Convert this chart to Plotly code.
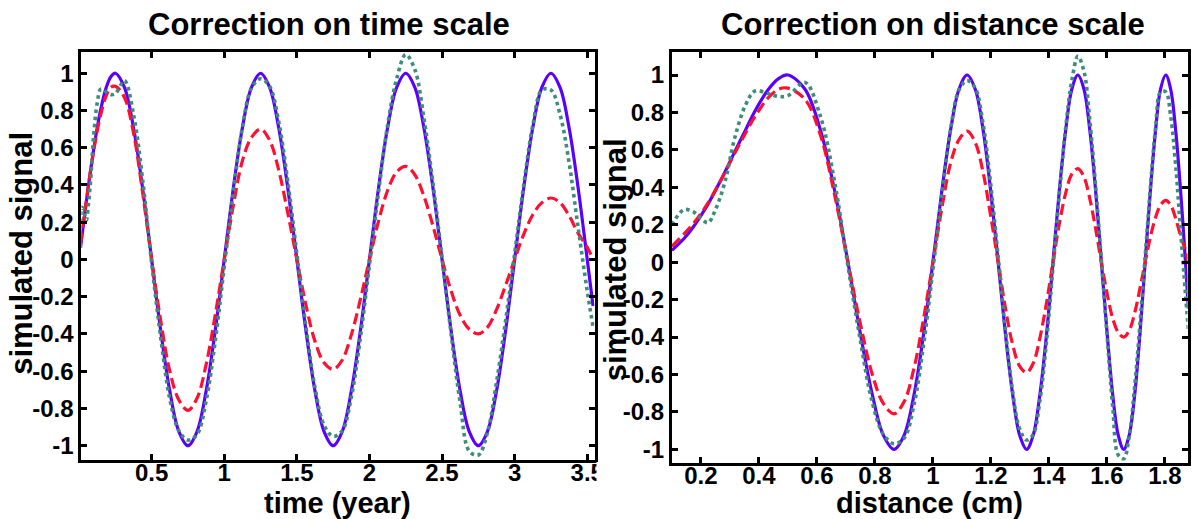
import plotly.graph_objects as go

# ---- data ----
time_year = [0.01, 0.02, 0.03, 0.04, 0.05, 0.0625, 0.08, 0.1, 0.125, 0.15, 0.1875, 0.22, 0.25,
             0.3125, 0.375, 0.4375, 0.5, 0.5625, 0.625, 0.6875, 0.75, 0.8125, 0.875, 0.9375, 1.0,
             1.0625, 1.125, 1.1875, 1.25, 1.3125, 1.375, 1.4375, 1.5, 1.5625, 1.625, 1.6875, 1.75,
             1.8125, 1.875, 1.9375, 2.0,
             2.0625, 2.125, 2.1875, 2.25, 2.3125, 2.375, 2.4375, 2.5, 2.5625, 2.625, 2.6875, 2.75,
             2.8125, 2.875, 2.9375, 3.0,
             3.0625, 3.125, 3.1875, 3.25, 3.3125, 3.375, 3.4375, 3.5, 3.54]

distance_cm = [0.100, 0.141, 0.173, 0.200, 0.224, 0.250, 0.283, 0.316, 0.354, 0.387, 0.433, 0.469, 0.500,
               0.559, 0.612, 0.661, 0.707, 0.750, 0.791, 0.829, 0.866, 0.901, 0.935, 0.968, 1.000,
               1.031, 1.061, 1.090, 1.118, 1.146, 1.173, 1.199, 1.225, 1.250, 1.275, 1.299, 1.323,
               1.346, 1.369, 1.392, 1.414,
               1.436, 1.458, 1.479, 1.500, 1.521, 1.541, 1.561, 1.581, 1.601, 1.620, 1.639, 1.658,
               1.677, 1.696, 1.714, 1.732,
               1.750, 1.768, 1.785, 1.803, 1.820, 1.837, 1.854, 1.871, 1.881]

signal_true = [0.063, 0.125, 0.187, 0.249, 0.309, 0.383, 0.482, 0.588, 0.707, 0.809, 0.924, 0.982, 1.0,
               0.924, 0.707, 0.383, 0.0, -0.383, -0.707, -0.924, -1.0, -0.924, -0.707, -0.383, 0.0,
               0.383, 0.707, 0.924, 1.0, 0.924, 0.707, 0.383, 0.0, -0.383, -0.707, -0.924, -1.0,
               -0.924, -0.707, -0.383, 0.0,
               0.383, 0.707, 0.924, 1.0, 0.924, 0.707, 0.383, 0.0, -0.383, -0.707, -0.924, -1.0,
               -0.924, -0.707, -0.383, 0.0,
               0.383, 0.707, 0.924, 1.0, 0.924, 0.707, 0.383, 0.0, -0.25]

signal_smoothed = [0.085, 0.15, 0.205, 0.26, 0.315, 0.385, 0.48, 0.58, 0.69, 0.78, 0.88, 0.925, 0.93,
                   0.87, 0.68, 0.36, 0.0, -0.33, -0.60, -0.755, -0.81, -0.745, -0.565, -0.30, 0.0,
                   0.29, 0.53, 0.655, 0.70, 0.64, 0.48, 0.25, 0.0, -0.245, -0.44, -0.555, -0.59,
                   -0.54, -0.405, -0.215, 0.0,
                   0.205, 0.37, 0.47, 0.50, 0.455, 0.34, 0.18, 0.0, -0.17, -0.30, -0.375, -0.40,
                   -0.365, -0.27, -0.14, 0.0,
                   0.135, 0.24, 0.305, 0.33, 0.305, 0.235, 0.14, 0.065, 0.0]

signal_corrected = [0.20, 0.28, 0.27, 0.235, 0.21, 0.28, 0.43, 0.66, 0.84, 0.915, 0.90, 0.885, 0.89,
                    0.96, 0.78, 0.43, -0.02, -0.42, -0.75, -0.92, -0.97, -0.94, -0.76, -0.44, -0.04,
                    0.36, 0.71, 0.92, 0.97, 0.93, 0.74, 0.42, 0.03, -0.36, -0.69, -0.89, -0.95,
                    -0.92, -0.74, -0.42, -0.03,
                    0.36, 0.72, 0.97, 1.10, 1.02, 0.76, 0.41, 0.01, -0.40, -0.77, -1.03, -1.05,
                    -0.93, -0.66, -0.33, 0.03,
                    0.40, 0.72, 0.91, 0.91, 0.78, 0.52, 0.17, -0.17, -0.36]

time_ticks = [0.5, 1, 1.5, 2, 2.5, 3, 3.5]
time_tick_text = ["0.5", "1", "1.5", "2", "2.5", "3", "3.5"]
dist_ticks = [0.2, 0.4, 0.6, 0.8, 1.0, 1.2, 1.4, 1.6, 1.8]
dist_tick_text = ["0.2", "0.4", "0.6", "0.8", "1", "1.2", "1.4", "1.6", "1.8"]
y_ticks = [-1, -0.8, -0.6, -0.4, -0.2, 0, 0.2, 0.4, 0.6, 0.8, 1]
y_tick_text = ["-1", "-0.8", "-0.6", "-0.4", "-0.2", "0", "0.2", "0.4", "0.6", "0.8", "1"]

titles = ["Correction on time scale", "Correction on distance scale"]
x_titles = ["time (year)", "distance (cm)"]
y_title = "simulated signal"

# ---- styling ----
W, H = 1198, 519
BLUE = "#5a00ff"
RED = "#ff1030"
GREEN = "#3d8c7c"
FONT = "Liberation Sans"


def px_x(p):
    return p / W


def px_y(p):
    return 1 - p / H


fig = go.Figure()

for xs, xa, ya in [(time_year, "x", "y"), (distance_cm, "x2", "y2")]:
    fig.add_trace(go.Scatter(x=xs, y=signal_true, xaxis=xa, yaxis=ya, mode="lines",
                             line=dict(color=BLUE, width=3.2, shape="spline"), showlegend=False))
    fig.add_trace(go.Scatter(x=xs, y=signal_smoothed, xaxis=xa, yaxis=ya, mode="lines",
                             line=dict(color=RED, width=3.2, dash="11px,5px", shape="spline"),
                             showlegend=False))
    fig.add_trace(go.Scatter(x=xs, y=signal_corrected, xaxis=xa, yaxis=ya, mode="lines",
                             line=dict(color=GREEN, width=3.6, dash="dot", shape="spline"),
                             showlegend=False))

tickfont = dict(family=FONT, size=24, color="black", weight="bold")
axis_common = dict(showline=True, linewidth=3, linecolor="black", mirror="ticks",
                   ticks="inside", ticklen=6, tickwidth=2.5, tickcolor="black",
                   showgrid=False, zeroline=False, tickfont=tickfont)

fig.update_layout(
    width=W, height=H,
    margin=dict(l=0, r=0, t=0, b=0),
    paper_bgcolor="white", plot_bgcolor="white",
    xaxis=dict(domain=[px_x(82), px_x(599)], range=[0.016, 3.55], anchor="y",
               tickvals=time_ticks, ticktext=time_tick_text, ticklabelstandoff=-11, **axis_common),
    yaxis=dict(domain=[px_y(460), px_y(52)], range=[-1.077, 1.114], anchor="x",
               tickvals=y_ticks, ticktext=y_tick_text, **axis_common),
    xaxis2=dict(domain=[px_x(677), px_x(1196.5)], range=[0.1, 1.878], anchor="y2",
                tickvals=dist_ticks, ticktext=dist_tick_text, ticklabelstandoff=-11, **axis_common),
    yaxis2=dict(domain=[px_y(463), px_y(52)], range=[-1.073, 1.123], anchor="x2",
                tickvals=y_ticks, ticktext=y_tick_text, **axis_common),
)

# the right panel overlaps the end of the left panel's last tick label
fig.add_shape(type="rect", xref="paper", yref="paper", layer="above",
              x0=px_x(601), x1=px_x(640), y0=px_y(495), y1=px_y(462),
              line=dict(width=0), fillcolor="white")

title_font = dict(family=FONT, size=31, color="black", weight="bold")
xtitle_font = dict(family=FONT, size=29, color="black", weight="bold")
ann = [
    dict(text=titles[0], x=px_x(331), y=px_y(25), font=title_font),
    dict(text=titles[1], x=px_x(940), y=px_y(25), font=title_font),
    dict(text=x_titles[0], x=px_x(340), y=px_y(503), font=xtitle_font),
    dict(text=x_titles[1], x=px_x(937), y=px_y(503), font=xtitle_font),
    dict(text=y_title, x=px_x(21), y=px_y(253), textangle=-90, font=title_font),
    dict(text=y_title, x=px_x(620), y=px_y(260), textangle=-90, font=title_font),
]
for a in ann:
    fig.add_annotation(xref="paper", yref="paper", showarrow=False,
                       xanchor="center", yanchor="middle", **a)

fig.write_html("out.html")
